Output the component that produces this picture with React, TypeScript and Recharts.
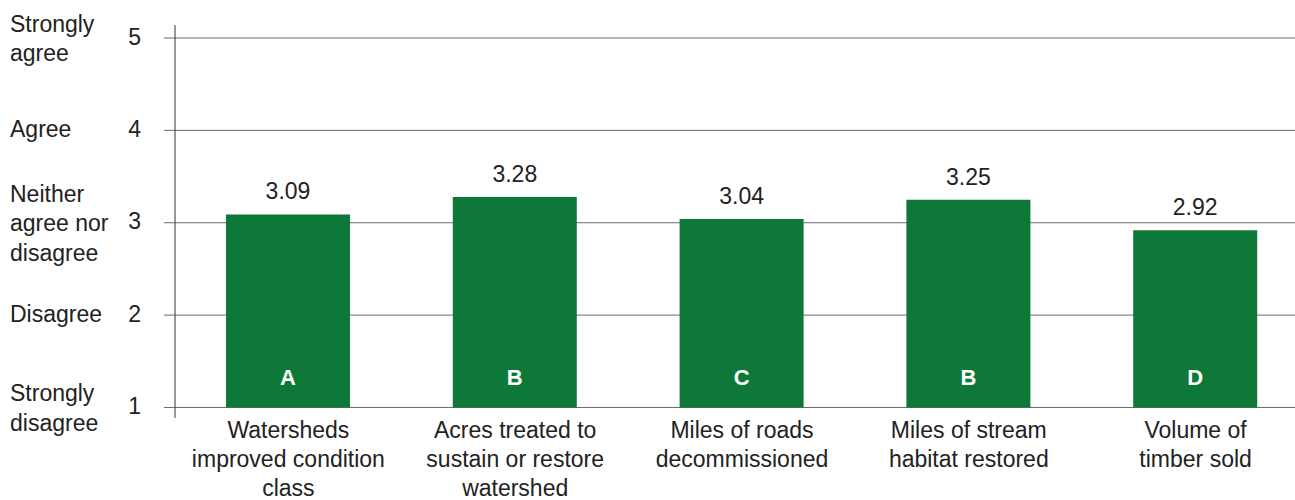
import React from "react";
import { BarChart, Bar, XAxis, YAxis, CartesianGrid, LabelList } from "recharts";

const categoryLines: string[][] = [
  ["Watersheds", "improved condition", "class"],
  ["Acres treated to", "sustain or restore", "watershed"],
  ["Miles of roads", "decommissioned"],
  ["Miles of stream", "habitat restored"],
  ["Volume of", "timber sold"],
];
const categories = categoryLines.map((l) => l.join(" "));
const scores = [3.09, 3.28, 3.04, 3.25, 2.92];
const groups = ["A", "B", "C", "B", "D"];
const yTicks = [1, 2, 3, 4, 5];
const levelLines: string[][] = [
  ["Strongly", "disagree"],
  ["Disagree"],
  ["Neither", "agree nor", "disagree"],
  ["Agree"],
  ["Strongly", "agree"],
];
const scaleMin = 1;

const data = categories.map((name, i) => ({
  name,
  score: scores[i],
  range: [scaleMin, scores[i]],
  group: groups[i],
}));

const FONT = "'Liberation Sans', Arial, Helvetica, sans-serif";
const TEXT = "#222222";

const XTick = (props: any) => {
  const { x, y, payload } = props;
  const idx = categories.indexOf(payload.value);
  const lines = categoryLines[idx] || [String(payload.value)];
  return (
    <g>
      {lines.map((ln, i) => (
        <text
          key={i}
          x={x}
          y={y + 19.5 + i * 29.3}
          textAnchor="middle"
          fill={TEXT}
          fontSize={23}
          fontFamily={FONT}
        >
          {ln}
        </text>
      ))}
    </g>
  );
};

const YTick = (props: any) => {
  const { x, y, payload } = props;
  const idx = yTicks.indexOf(payload.value);
  const lines = levelLines[idx] || [];
  const n = lines.length;
  return (
    <g>
      <text x={x} y={y + 6.5} textAnchor="end" fill={TEXT} fontSize={23} fontFamily={FONT}>
        {payload.value}
      </text>
      {lines.map((ln, i) => (
        <text
          key={i}
          x={10}
          y={y + (n > 1 ? 8.5 : 6.5) + (i - (n - 1) / 2) * 29.5}
          textAnchor="start"
          fill={TEXT}
          fontSize={23}
          fontFamily={FONT}
        >
          {ln}
        </text>
      ))}
    </g>
  );
};

export default function App() {
  return (
    <div
      style={{
        position: "absolute",
        left: 0,
        top: 0,
        width: 1295,
        height: 500,
        overflow: "hidden",
        background: "#ffffff",
      }}
    >
      <BarChart
        width={1309}
        height={500}
        data={data}
        margin={{ top: 25, right: 0, bottom: 0, left: 0 }}
      >
        <CartesianGrid
          horizontal
          vertical={false}
          horizontalValues={yTicks}
          syncWithTicks={false}
          stroke="#6a6a6a"
          strokeWidth={1}
        />
        <XAxis
          dataKey="name"
          height={82}
          axisLine={false}
          tickLine={false}
          tickSize={0}
          tickMargin={0}
          interval={0}
          tick={<XTick />}
        />
        <YAxis
          type="number"
          width={175}
          domain={[0.886, 5.141]}
          ticks={yTicks}
          allowDataOverflow
          axisLine={{ stroke: "#333333", strokeWidth: 1 }}
          tickLine={{ stroke: "#6a6a6a", strokeWidth: 1 }}
          tickSize={11}
          tickMargin={23}
          tick={<YTick />}
        />
        <Bar dataKey="range" fill="#0d7837" barSize={124} isAnimationActive={false}>
          <LabelList
            dataKey="score"
            position="top"
            offset={15}
            fill={TEXT}
            fontSize={23}
            fontFamily={FONT}
          />
          <LabelList
            dataKey="group"
            position="insideBottom"
            offset={22}
            fill="#ffffff"
            fontSize={22}
            fontWeight="bold"
            fontFamily={FONT}
          />
        </Bar>
      </BarChart>
    </div>
  );
}
